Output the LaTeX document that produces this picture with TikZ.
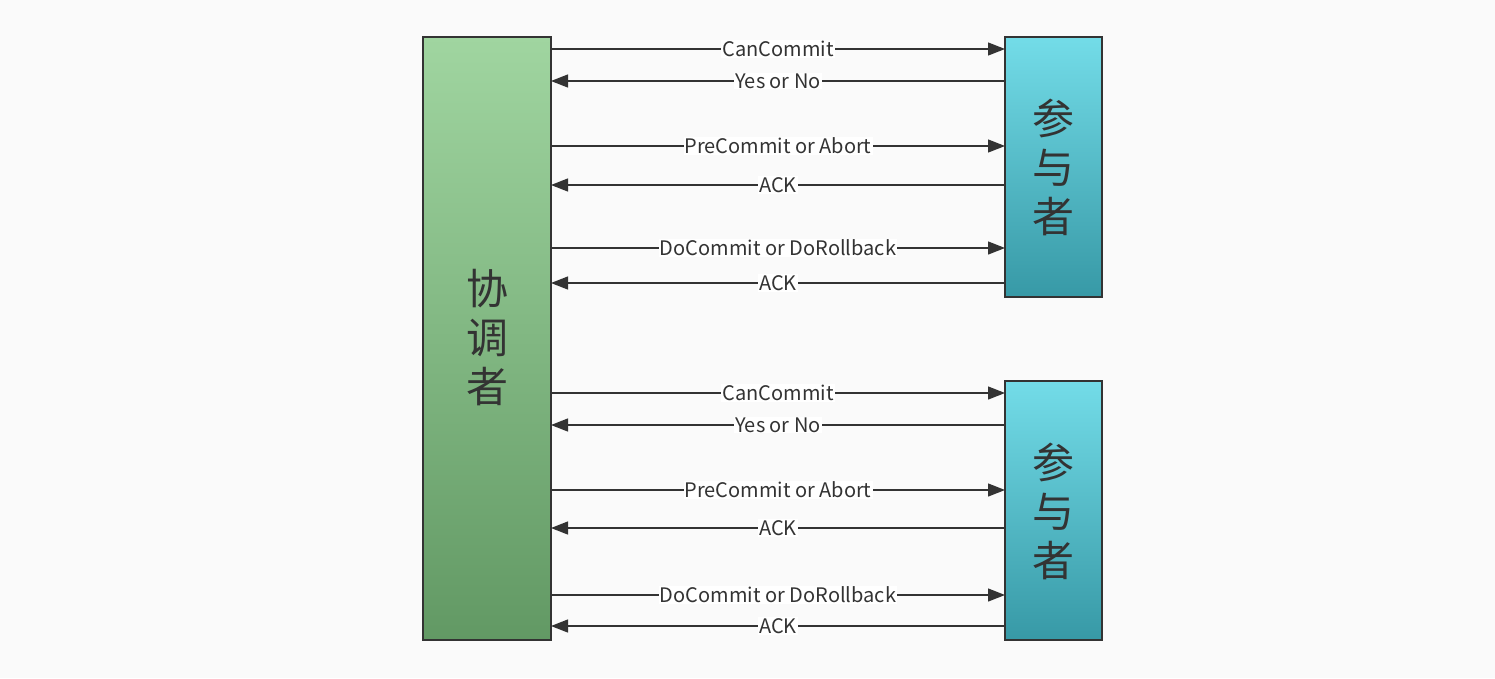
\documentclass[tikz,border=0pt]{standalone}
\usepackage{fontspec}
\setmainfont{Noto Sans CJK SC}
\usetikzlibrary{arrows.meta}
\definecolor{bg}{HTML}{FAFAFA}
\definecolor{ink}{HTML}{333333}
\definecolor{gtop}{HTML}{A0D5A0}
\definecolor{gbot}{HTML}{629964}
\definecolor{ctop}{HTML}{73DCE8}
\definecolor{cbot}{HTML}{3799A6}
\begin{document}
\begin{tikzpicture}[x=1pt,y=-1pt,
  coord/.style={draw=ink,line width=1.2pt,shading=axis,top color=gtop,bottom color=gbot},
  part/.style={draw=ink,line width=1.2pt,shading=axis,top color=ctop,bottom color=cbot},
  big/.style={text=ink,font=\fontsize{42}{49}\selectfont,align=center},
  msg/.style={draw=ink,line width=1.3pt,-{Triangle[length=17pt,width=13pt]}},
  lbl/.style={fill=white,text=ink,inner sep=1pt,font=\fontsize{20}{22}\selectfont}]
\fill[bg] (0,0) rectangle (1495,678);
\useasboundingbox (0,0) rectangle (1495,678);
% boxes
\path[coord] (423,37) rectangle (551,640);
\path[part] (1005,37) rectangle (1102,297);
\path[part] (1005,381) rectangle (1102,640);
\node[big] (c) at (487,338) {协\\调\\者};
\node[big] (p1) at (1053,167) {参\\与\\者};
\node[big] (p2) at (1053,511) {参\\与\\者};
% anchors
\foreach \y [count=\i] in {49,81,146,185,248,283,393,425,490,528,595,626} {
  \coordinate (L\i) at (551,\y);
  \coordinate (R\i) at (1005,\y);
}
\draw[msg] (L1) -- node[lbl]{CanCommit} (R1);
\draw[msg] (R2) -- node[lbl]{Yes or No} (L2);
\draw[msg] (L3) -- node[lbl]{PreCommit or Abort} (R3);
\draw[msg] (R4) -- node[lbl]{ACK} (L4);
\draw[msg] (L5) -- node[lbl]{DoCommit or DoRollback} (R5);
\draw[msg] (R6) -- node[lbl]{ACK} (L6);
\draw[msg] (L7) -- node[lbl]{CanCommit} (R7);
\draw[msg] (R8) -- node[lbl]{Yes or No} (L8);
\draw[msg] (L9) -- node[lbl]{PreCommit or Abort} (R9);
\draw[msg] (R10) -- node[lbl]{ACK} (L10);
\draw[msg] (L11) -- node[lbl]{DoCommit or DoRollback} (R11);
\draw[msg] (R12) -- node[lbl]{ACK} (L12);
\end{tikzpicture}
\end{document}
